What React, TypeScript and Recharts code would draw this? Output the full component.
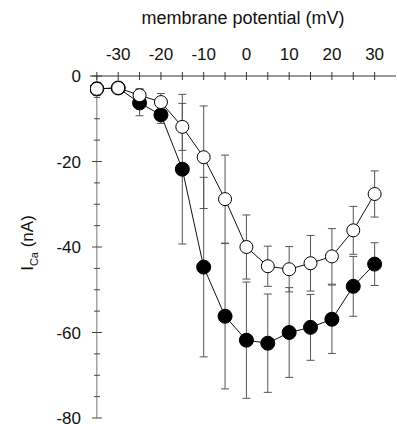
import { ErrorBar, Line, LineChart, ReferenceLine, XAxis, YAxis } from 'recharts';

const potentials = [-35, -30, -25, -20, -15, -10, -5, 0, 5, 10, 15, 20, 25, 30];
const openCurrent = [-3.0, -2.8, -4.5, -6.1, -11.9, -19, -28.8, -40, -44.5, -45.2, -43.8, -42.2, -36.1, -27.6];
const openSem = [1.5, 1, 1.5, 2, 5.5, 12, 10.3, 7.5, 4.7, 5.3, 6.5, 6.5, 5.6, 5.4];
const filledCurrent = [-3.0, -2.8, -6.3, -9.1, -21.8, -44.7, -56.2, -61.8, -62.5, -60, -58.8, -56.9, -49.2, -44];
const filledSem = [1, 1, 3, 2, 17.5, 21, 17, 13.6, 11.5, 10.5, 7.7, 8, 7, 5];

const xTicks = [-35, -30, -25, -20, -15, -10, -5, 0, 5, 10, 15, 20, 25, 30];
const yTicks = [0, -5, -10, -15, -20, -25, -30, -35, -40, -45, -50, -55, -60, -65, -70, -75, -80];

const data = potentials.map((v, i) => ({
   v,
   open: openCurrent[i],
   openErr: openSem[i],
   filled: filledCurrent[i],
   filledErr: filledSem[i],
}));

const font = '"Liberation Sans", Arial, sans-serif';

const XTick = (props: any) => {
   const { x, y, payload } = props;
   const axisY = y + 8;
   const major = payload.value % 10 === 0;
   return (
      <g>
         <line x1={x} x2={x} y1={axisY - 4} y2={axisY + 4} stroke="#333" />
         {major && (
            <text x={x} y={axisY - 16} textAnchor="middle" fontSize={17} fontFamily={font} fill="#111">
               {payload.value}
            </text>
         )}
      </g>
   );
};

const YTick = (props: any) => {
   const { x, y, payload } = props;
   const axisX = x + 9 + 7;
   const major = payload.value % 20 === 0;
   return (
      <g>
         <line x1={major ? axisX - 5 : axisX - 3} x2={major ? axisX + 5 : axisX + 3} y1={y} y2={y} stroke="#444" />
         {major && (
            <text x={x} y={y + 6} textAnchor="end" fontSize={17} fontFamily={font} fill="#111">
               {payload.value}
            </text>
         )}
      </g>
   );
};

const YLabel = (props: any) => {
   const { viewBox } = props;
   const cx = viewBox.x + 33;
   const cy = viewBox.y + viewBox.height / 2 - 4;
   return (
      <text transform={`translate(${cx},${cy}) rotate(-90)`} textAnchor="middle" fontSize={17} fontFamily={font} fill="#111">
         I
         <tspan fontSize={11} dy={5}>Ca</tspan>
         <tspan dy={-5}> (nA)</tspan>
      </text>
   );
};

export default function App() {
   return (
      <div style={{ position: 'absolute', left: 0, top: 0, background: '#fff' }}>
         <LineChart width={397} height={424} data={data} margin={{ top: 28, right: 1, left: 0, bottom: 6 }}>
            <XAxis
               dataKey="v"
               type="number"
               orientation="top"
               domain={[-36.6, 35]}
               allowDataOverflow
               ticks={xTicks}
               interval={0}
               height={48}
               tickSize={0}
               tickMargin={8}
               tickLine={false}
               tick={<XTick />}
               axisLine={{ stroke: '#333' }}
               label={{ value: 'membrane potential (mV)', position: 'top', offset: 4, fontSize: 18, fontFamily: font, fill: '#111' }}
            />
            <YAxis
               type="number"
               domain={[-80, 0]}
               allowDataOverflow
               ticks={yTicks}
               interval={0}
               width={90}
               tickSize={0}
               tickMargin={9}
               tickLine={false}
               axisLine={false}
               tick={<YTick />}
               label={{ content: <YLabel /> }}
            />
            <ReferenceLine x={-35} stroke="#777" />
            <Line
               dataKey="filled"
               stroke="#111"
               strokeWidth={1}
               isAnimationActive={false}
               dot={{ r: 7, fill: '#000', stroke: '#000', strokeWidth: 1 }}
               activeDot={false}
            >
               <ErrorBar dataKey="filledErr" direction="y" width={4} stroke="#555" strokeWidth={1} />
            </Line>
            <Line
               dataKey="open"
               stroke="#111"
               strokeWidth={1}
               isAnimationActive={false}
               dot={{ r: 6.5, fill: '#fff', stroke: '#000', strokeWidth: 1 }}
               activeDot={false}
            >
               <ErrorBar dataKey="openErr" direction="y" width={4} stroke="#555" strokeWidth={1} />
            </Line>
         </LineChart>
      </div>
   );
}
